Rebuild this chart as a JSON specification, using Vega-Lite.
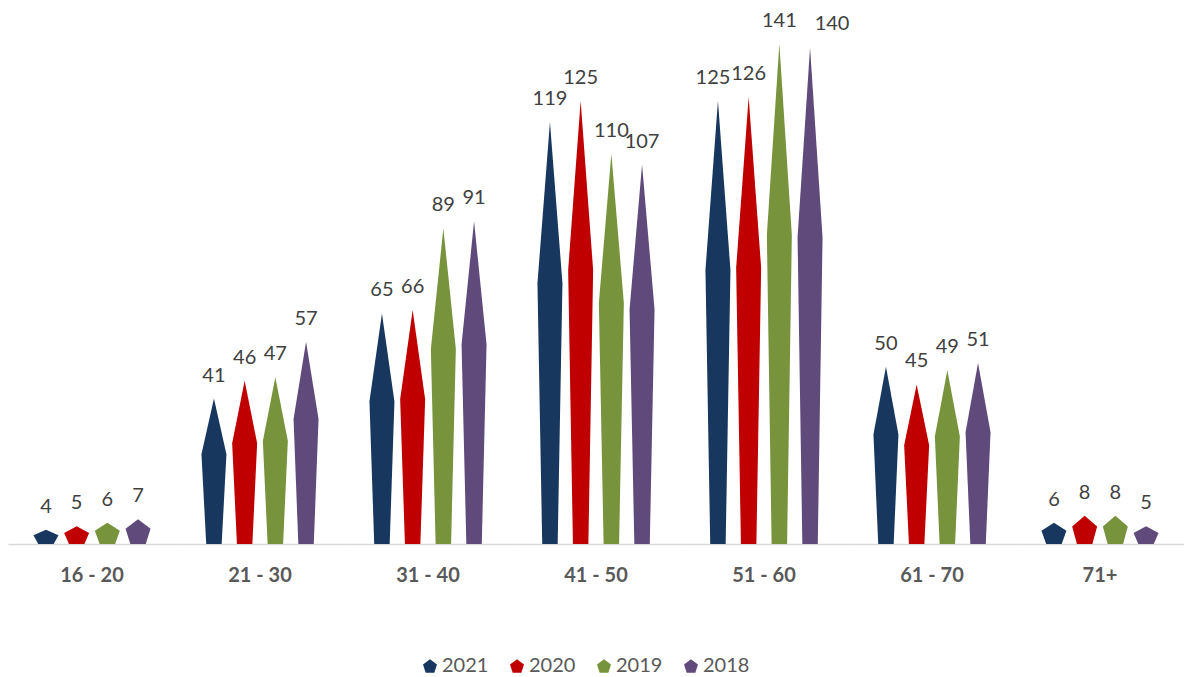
{
  "$schema": "https://vega.github.io/schema/vega-lite/v6.json",
  "autosize": {"type": "pad"},
  "padding": {"left": 8, "top": 10, "right": 0, "bottom": 0},
  "background": "#ffffff",
  "bounds": "flush",
  "data": {
    "values": [
      {"age": "16 - 20", "year": 2021, "count": 4},
      {"age": "16 - 20", "year": 2020, "count": 5},
      {"age": "16 - 20", "year": 2019, "count": 6},
      {"age": "16 - 20", "year": 2018, "count": 7},
      {"age": "21 - 30", "year": 2021, "count": 41},
      {"age": "21 - 30", "year": 2020, "count": 46},
      {"age": "21 - 30", "year": 2019, "count": 47},
      {"age": "21 - 30", "year": 2018, "count": 57},
      {"age": "31 - 40", "year": 2021, "count": 65},
      {"age": "31 - 40", "year": 2020, "count": 66},
      {"age": "31 - 40", "year": 2019, "count": 89},
      {"age": "31 - 40", "year": 2018, "count": 91},
      {"age": "41 - 50", "year": 2021, "count": 119},
      {"age": "41 - 50", "year": 2020, "count": 125},
      {"age": "41 - 50", "year": 2019, "count": 110},
      {"age": "41 - 50", "year": 2018, "count": 107},
      {"age": "51 - 60", "year": 2021, "count": 125},
      {"age": "51 - 60", "year": 2020, "count": 126},
      {"age": "51 - 60", "year": 2019, "count": 141},
      {"age": "51 - 60", "year": 2018, "count": 140},
      {"age": "61 - 70", "year": 2021, "count": 50},
      {"age": "61 - 70", "year": 2020, "count": 45},
      {"age": "61 - 70", "year": 2019, "count": 49},
      {"age": "61 - 70", "year": 2018, "count": 51},
      {"age": "71+", "year": 2021, "count": 6},
      {"age": "71+", "year": 2020, "count": 8},
      {"age": "71+", "year": 2019, "count": 8},
      {"age": "71+", "year": 2018, "count": 5}
    ]
  },
  "transform": [
    {"window": [{"op": "dense_rank", "as": "slot"}], "sort": [{"field": "year", "order": "descending"}]}
  ],
  "facet": {
    "column": {
      "field": "age",
      "type": "nominal",
      "title": null,
      "sort": "ascending",
      "header": {
        "labelOrient": "bottom",
        "labelFont": "Lato",
        "labelFontWeight": "bold",
        "labelFontSize": 20,
        "labelColor": "#595959",
        "labelPadding": 22
      }
    }
  },
  "spacing": {"column": 0},
  "spec": {
    "width": 168,
    "height": 532,
    "encoding": {
      "y": {"type": "quantitative", "scale": {"domain": [0, 150], "nice": false}, "axis": null},
      "color": {
        "field": "year",
        "type": "nominal",
        "scale": {"domain": [2021, 2020, 2019, 2018], "range": ["#17375E", "#C00000", "#77933C", "#604A7B"]},
        "legend": {
          "title": null,
          "orient": "none",
          "direction": "horizontal",
          "legendX": 412,
          "legendY": 644,
          "symbolType": "M0,-0.905L0.951,-0.214L0.588,0.905L-0.588,0.905L-0.951,-0.214Z",
          "symbolSize": 216,
          "symbolStrokeWidth": 0,
          "labelFont": "Lato",
          "labelFontSize": 20,
          "labelColor": "#595959",
          "labelOffset": 2,
          "columnPadding": 18
        }
      }
    },
    "layer": [
      {
        "transform": [
          {"calculate": "[0, 0.618, 1]", "as": "frac"},
          {"calculate": "[0.618, 1, 0]", "as": "spread"},
          {"flatten": ["frac", "spread"]},
          {"calculate": "datum.count * datum.frac", "as": "level"},
          {"calculate": "datum.slot - 0.407 * datum.spread", "as": "left"},
          {"calculate": "datum.slot + 0.407 * datum.spread", "as": "right"}
        ],
        "mark": {"type": "area", "orient": "horizontal", "interpolate": "linear", "opacity": 1},
        "encoding": {
          "y": {"field": "level"},
          "x": {"field": "left", "type": "quantitative", "scale": {"domain": [-0.236, 5.236], "nice": false, "zero": false},
                "axis": {"domain": true, "domainColor": "#D9D9D9", "domainWidth": 1.5, "ticks": false, "labels": false, "grid": false, "title": null}},
          "x2": {"field": "right"},
          "detail": {"field": "year"}
        }
      },
      {
        "transform": [{"filter": "datum.age !== '51 - 60' || datum.year === 2020 || datum.year === 2019"}],
        "mark": {"type": "text", "dy": -17, "baseline": "alphabetic", "font": "Lato", "fontSize": 20, "color": "#404040"},
        "encoding": {
          "x": {"field": "slot", "type": "quantitative"},
          "y": {"field": "count"},
          "text": {"field": "count", "type": "quantitative"},
          "color": {"value": "#404040"}
        }
      },
      {
        "transform": [{"filter": "datum.age === '51 - 60' && datum.year === 2021"}],
        "mark": {"type": "text", "dx": -5, "dy": -17, "baseline": "alphabetic", "font": "Lato", "fontSize": 20, "color": "#404040"},
        "encoding": {
          "x": {"field": "slot", "type": "quantitative"},
          "y": {"field": "count"},
          "text": {"field": "count", "type": "quantitative"},
          "color": {"value": "#404040"}
        }
      },
      {
        "transform": [{"filter": "datum.age === '51 - 60' && datum.year === 2018"}],
        "mark": {"type": "text", "dx": 22, "dy": -17, "baseline": "alphabetic", "font": "Lato", "fontSize": 20, "color": "#404040"},
        "encoding": {
          "x": {"field": "slot", "type": "quantitative"},
          "y": {"field": "count"},
          "text": {"field": "count", "type": "quantitative"},
          "color": {"value": "#404040"}
        }
      }
    ]
  },
  "config": {
    "view": {"stroke": null},
    "axis": {"grid": false}
  }
}
